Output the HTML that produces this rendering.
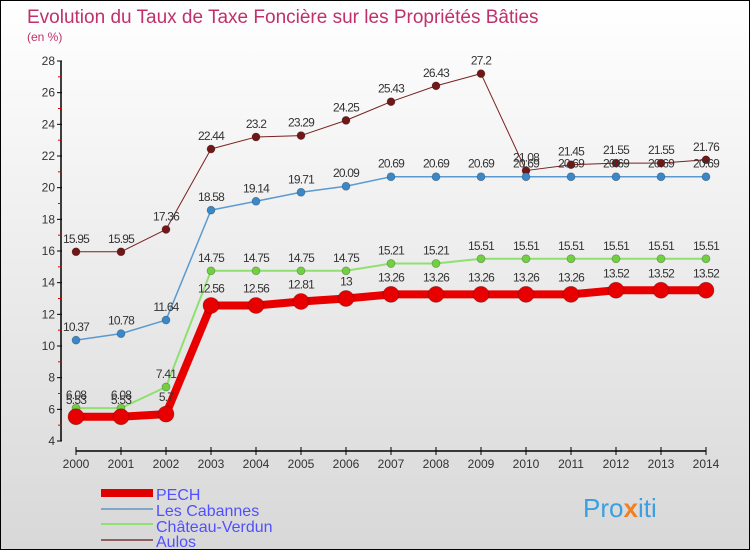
<!DOCTYPE html>
<html><head><meta charset="utf-8"><style>
body{margin:0;}
#c{position:relative;width:748px;height:548px;border:1px solid #000;background:linear-gradient(#fff,#d8d8d8);overflow:hidden;font-family:"Liberation Sans",sans-serif;}
</style></head><body>
<div id="c">
<svg id="s" width="748" height="548" style="position:absolute;left:0;top:0" font-family="Liberation Sans, sans-serif">
<text x="26" y="22" font-size="19" fill="#c0306a">Evolution du Taux de Taxe Foncière sur les Propriétés Bâties</text>
<text x="26" y="40" font-size="12" fill="#c0306a">(en %)</text>
<g id="g"></g>
<g font-size="16" fill="#5050ff">
<rect x="100" y="488" width="52" height="8" fill="#e00000"/>
<text x="155" y="499" fill="#5050ff">PECH</text>
<rect x="100" y="507" width="52" height="2" fill="#7fa6c8"/>
<text x="155" y="515" fill="#5050ff">Les Cabannes</text>
<rect x="100" y="522" width="52" height="2" fill="#90e070"/>
<text x="155" y="531" fill="#5050ff">Château-Verdun</text>
<rect x="100" y="538" width="52" height="2" fill="#906060"/>
<text x="155" y="546" fill="#5050ff">Aulos</text>
</g>
<text x="582" y="516" font-size="26" fill="#3aa0e0">Pro<tspan fill="#f08020" font-weight="bold">x</tspan>iti</text>
</svg>
</div>
<script>
const years=[2000,2001,2002,2003,2004,2005,2006,2007,2008,2009,2010,2011,2012,2013,2014];
const pech=[5.53,5.53,5.7,12.56,12.56,12.81,13,13.26,13.26,13.26,13.26,13.26,13.52,13.52,13.52];
const cabannes=[10.37,10.78,11.64,18.58,19.14,19.71,20.09,20.69,20.69,20.69,20.69,20.69,20.69,20.69,20.69];
const chateau=[6.08,6.08,7.41,14.75,14.75,14.75,14.75,15.21,15.21,15.51,15.51,15.51,15.51,15.51,15.51];
const aulos=[15.95,15.95,17.36,22.44,23.2,23.29,24.25,25.43,26.43,27.2,21.08,21.45,21.55,21.55,21.76];
const yTicks=[4,6,8,10,12,14,16,18,20,22,24,26,28];
const NS="http://www.w3.org/2000/svg";
const g=document.getElementById('g');
const X=i=>75+i*45;
const Y=v=>440-(v-4)*(380/24);
function el(t,a,p){const e=document.createElementNS(NS,t);for(const k in a)e.setAttribute(k,a[k]);(p||g).appendChild(e);return e;}
let ax=el('line',{x1:60,y1:60,x2:60,y2:440,stroke:'#000','stroke-width':1.5});


let bx=el('line',{x1:75,y1:450,x2:705,y2:450,stroke:'#000','stroke-width':1.5});


yTicks.forEach(v=>{
 el('line',{x1:56,y1:Y(v),x2:61,y2:Y(v),stroke:'#000'});
 if(v<28)el('line',{x1:57,y1:Y(v+1),x2:61,y2:Y(v+1),stroke:'#e00000'});
 const t=el('text',{x:54,y:Y(v)+4,'font-size':12,'text-anchor':'end',fill:'#333'});t.textContent=v;
 
 
});
years.forEach((y,i)=>{
 el('line',{x1:X(i),y1:446,x2:X(i),y2:454,stroke:'#000'});
 const t=el('text',{x:X(i),y:467,'font-size':12,'text-anchor':'middle',fill:'#333'});t.textContent=y;
 
 
});
function series(data,color,w,r,dot,name){
 const p=el('polyline',{points:data.map((v,i)=>X(i)+','+Y(v)).join(' '),fill:'none',stroke:color,'stroke-width':w,'stroke-linejoin':'round'});
 
 
 data.forEach((v,i)=>{
  const c=el('circle',{cx:X(i),cy:Y(v),r:r,fill:dot,stroke:'rgba(0,0,0,0.3)','stroke-width':0.7});
  
  
  const t=el('text',{x:X(i),y:Y(v)-(r+5),'font-size':12,'text-anchor':'middle',fill:'#333','letter-spacing':'-0.8'});t.textContent=v;
  
  
 });
}
series(aulos,'#7a2020',1,4,'#701818','aulos');
series(cabannes,'#5a9ad0',1.5,4,'#3a88c8','les-cabannes');
series(chateau,'#90e070',2,4,'#70d040','chateau-verdun');
series(pech,'#e80000',8,8,'#e80000','pech');
</script>
</body></html>
